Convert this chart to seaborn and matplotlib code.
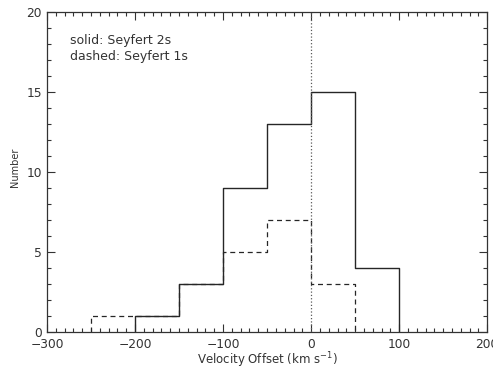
import numpy as np
import pandas as pd
import matplotlib
matplotlib.use("Agg")
import matplotlib.pyplot as plt
import seaborn as sns

# bin edges in km/s and counts per bin
bin_edges = [-250, -200, -150, -100, -50, 0, 50, 100]
sy2_counts = [0, 1, 3, 9, 13, 15, 4]   # solid: Seyfert 2s
sy1_counts = [1, 1, 3, 5, 7, 3, 0]     # dashed: Seyfert 1s

x_ticks = [-300, -200, -100, 0, 100, 200]
y_ticks = [0, 5, 10, 15, 20]


def step_outline(edges, counts):
    # trim empty bins at both ends, then build a closed step outline
    nz = [i for i, c in enumerate(counts) if c > 0]
    lo, hi = nz[0], nz[-1]
    e = list(edges[lo:hi + 2])
    c = list(counts[lo:hi + 1])
    xs = [e[0]] + e
    ys = [0] + c + [0]
    return pd.DataFrame({"x": xs, "y": ys})


sns.set_style("ticks")
plt.rcParams['font.family'] = ['DejaVu Sans']

fig = plt.figure(figsize=(4.93, 3.69), dpi=100)
ax = fig.add_axes([0.0953, 0.100, 0.893, 0.867])

sy2 = step_outline(bin_edges, sy2_counts)
sy1 = step_outline(bin_edges, sy1_counts)

# dashed first so the solid outline sits on top where they coincide
sns.lineplot(data=sy1, x="x", y="y", drawstyle="steps-post", sort=False,
             estimator=None, color="0.15", linewidth=0.9, ax=ax,
             linestyle=(0, (4, 3)))
sns.lineplot(data=sy2, x="x", y="y", drawstyle="steps-post", sort=False,
             estimator=None, color="0.15", linewidth=1.0, ax=ax)

ax.axvline(0, color="0.35", linestyle=":", linewidth=0.9)

ax.set_xlim(-300, 200)
ax.set_ylim(0, 20)
ax.set_xticks(x_ticks)
ax.set_yticks(y_ticks)
ax.set_xticks(np.arange(-300, 201, 10), minor=True)
ax.set_yticks(np.arange(0, 21, 1), minor=True)
ax.set_xticklabels(["\u2212300", "\u2212200", "\u2212100", "0", "100", "200"])
ax.tick_params(which="both", direction="in", top=True, right=True,
               colors="0.2", labelsize=8.8, width=0.8)
ax.tick_params(which="major", length=6)
ax.tick_params(which="minor", length=3)
ax.tick_params(axis="x", which="major", pad=4.5)
for s in ax.spines.values():
    s.set_color("0.2")
    s.set_linewidth(0.9)

ax.set_xlabel("Velocity Offset (km s$^{-1}$)", fontsize=8.5, color="0.2")
ax.xaxis.set_label_coords(0.5, -0.1)
ax.xaxis.label.set_va("baseline")
ax.set_ylabel("Number", fontsize=7, color="0.2")
ax.yaxis.set_label_coords(-0.061, 0.514)

ax.text(-274, 18.25, "solid: Seyfert 2s", fontsize=9, color="0.2", va="center")
ax.text(-274, 17.25, "dashed: Seyfert 1s", fontsize=9, color="0.2", va="center")

fig.savefig("out.png", dpi=100)
